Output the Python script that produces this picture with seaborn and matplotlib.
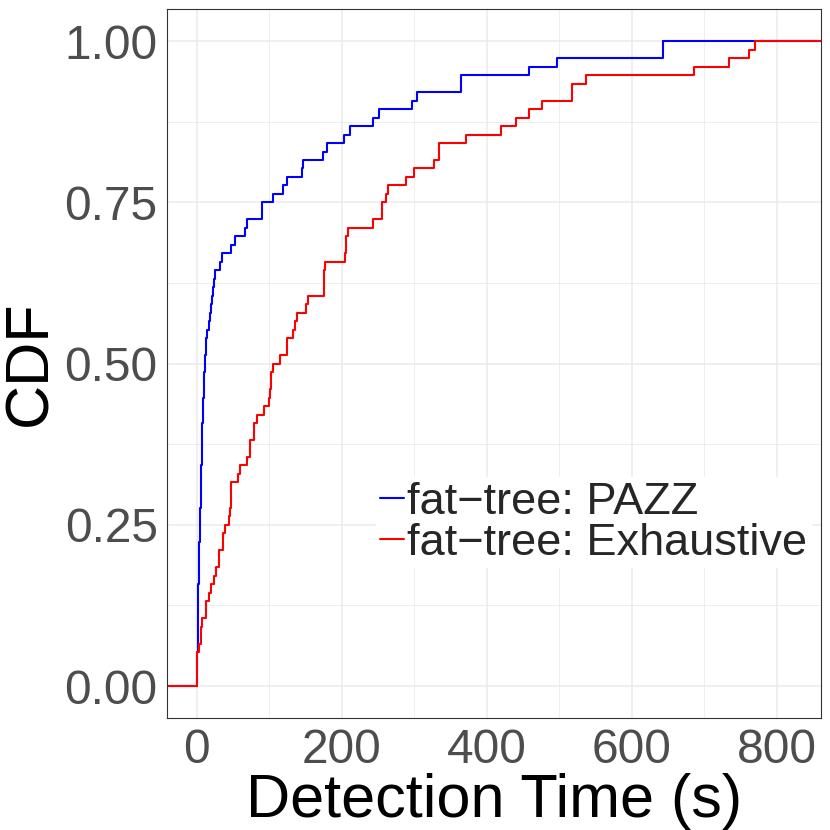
import numpy as np
import pandas as pd
import matplotlib
matplotlib.use('Agg')
import matplotlib.pyplot as plt
import seaborn as sns
from matplotlib.ticker import MultipleLocator, FormatStrFormatter

# detection times (s)
pazz_times = [
    0.9, 0.9, 0.9, 0.9, 1.1, 1.2, 1.3, 1.4, 1.5,
    1.8, 2.1, 2.4, 2.7, 2.9, 3.1, 3.3,
    3.6, 3.9, 4.2, 4.5, 4.9, 5.2, 5.6, 5.9,
    6.2, 6.5, 6.8, 7.0, 7.3, 7.5, 7.8, 8.1, 8.4, 8.7,
    9.3, 10.0, 10.5, 11.0, 11.4, 12.2, 13.0, 14.2, 16.9,
    18.0, 20.0, 21.5, 22.9, 24.0, 25.2,
    32.0, 35.3, 47.7, 53.1, 66.0, 69.6, 89.9, 89.9, 104.6, 119.2,
    124.7, 144.9, 147.2, 174.3, 179.8, 203.2, 211.0, 242.6, 251.3,
    297.0, 303.6, 364.6, 364.6, 457.7, 496.7, 642.6, 642.6,
]
exhaustive_times = [
    0.9, 0.9, 0.9, 0.9, 3.6, 5.9, 5.9, 7.8, 12.3, 12.3,
    16.9, 19.2, 23.8, 26.1, 30.7, 30.7, 35.7, 35.7, 38.9,
    44.9, 46.5, 47.2, 47.2, 47.2, 57.5, 59.0, 68.8, 73.3, 73.3,
    78.9, 78.9, 83.4, 92.6, 99.5, 100.5, 102.0, 103.0, 104.6,
    114.6, 123.8, 123.8, 132.1, 135.3, 137.6, 150.4, 153.6,
    175.6, 175.6, 175.6, 177.0, 205.0, 205.9, 205.9, 208.7,
    242.6, 255.0, 255.0, 261.4, 263.7, 288.0, 299.5, 327.0,
    333.9, 333.9, 371.5, 420.1, 440.3, 457.7, 475.6, 518.3, 518.3,
    536.6, 685.7, 733.9, 762.3, 770.6,
]
series_names = ["fat\u2212tree: PAZZ", "fat\u2212tree: Exhaustive"]
series_colors = ["#0000FF", "#FF0000"]

x_ticks = [0, 200, 400, 600, 800]
y_ticks = [0.0, 0.25, 0.5, 0.75, 1.0]

df = pd.DataFrame({
    "time": pazz_times + exhaustive_times,
    "series": [series_names[0]] * len(pazz_times) + [series_names[1]] * len(exhaustive_times),
})

sns.set_theme(style="whitegrid")
plt.rcParams['font.family'] = ['Liberation Sans', 'DejaVu Sans']

fig = plt.figure(figsize=(8.3, 8.3), dpi=100)
ax = fig.add_axes([0.2016, 0.1346, 0.9888 - 0.2016, 0.9892 - 0.1346])

xlim = (-40.6, 860.7)
ylim = (-0.05, 1.05)

for name, color in zip(series_names, series_colors):
    sub = df[df["series"] == name]["time"]
    sns.ecdfplot(x=sub, ax=ax, color=color, linewidth=1.5, label=name)
    # ggplot-style padding of the ecdf to the panel edges
    ax.plot([xlim[0], sub.min()], [0, 0], color=color, linewidth=1.5)
    ax.plot([sub.max(), xlim[1]], [1, 1], color=color, linewidth=1.5)

ax.set_xlim(*xlim)
ax.set_ylim(*ylim)
ax.set_xticks(x_ticks)
ax.set_yticks(y_ticks)
ax.xaxis.set_minor_locator(MultipleLocator(100))
ax.yaxis.set_minor_locator(MultipleLocator(0.125))
ax.yaxis.set_major_formatter(FormatStrFormatter('%.2f'))

ax.grid(which="major", color="#EBEBEB", linewidth=1.1)
ax.grid(which="minor", color="#EBEBEB", linewidth=0.6)
ax.set_axisbelow(True)
for s in ax.spines.values():
    s.set_color("#333333")
    s.set_linewidth(0.8)
    s.set_visible(True)

ax.tick_params(which="major", length=3.4, width=0.8, color="#333333",
               labelsize=34.5, labelcolor="#4D4D4D", pad=3.5)
ax.tick_params(which="minor", length=0)

ax.set_xlabel("Detection Time (s)", fontsize=44, color="black", labelpad=0)
ax.set_ylabel("CDF", fontsize=44, color="black", labelpad=4)

leg = ax.legend(loc="upper left", bbox_to_anchor=(0.319, 0.340), borderaxespad=0,
                fontsize=32.5, handlelength=0.52, handletextpad=0.08,
                labelspacing=0.0, borderpad=0.1, frameon=True,
                facecolor="white", edgecolor="none", framealpha=1, fancybox=False)
for h in leg.get_lines():
    h.set_linewidth(1.5)

fig.savefig("out.png", dpi=100)
